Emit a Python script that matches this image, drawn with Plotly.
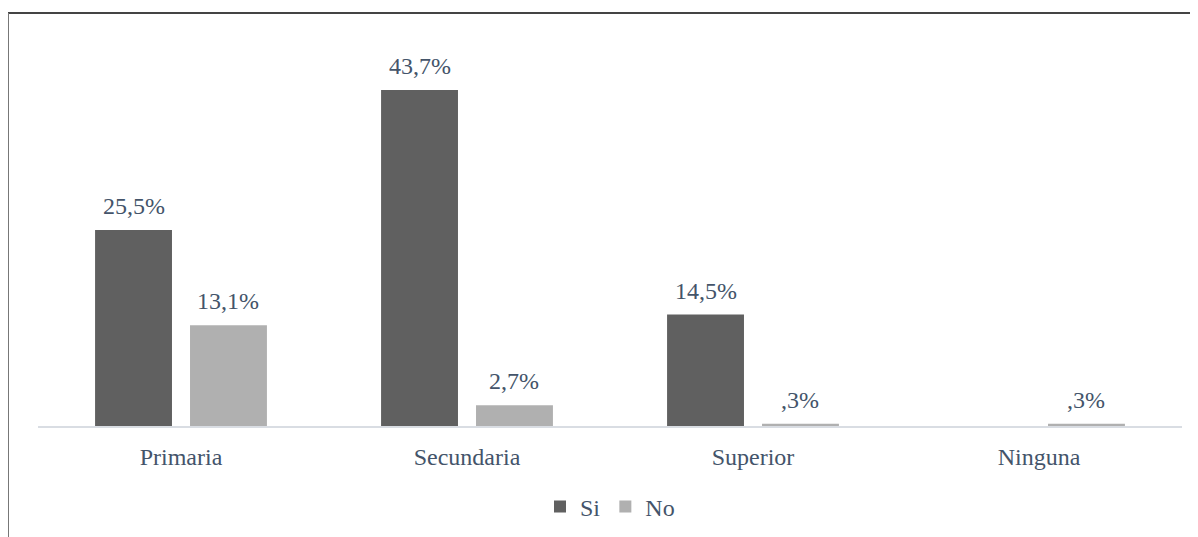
import plotly.graph_objects as go

categories = ["Primaria", "Secundaria", "Superior", "Ninguna"]
si_values = [25.5, 43.7, 14.5, None]
no_values = [13.1, 2.7, 0.3, 0.3]
series_names = ["Si", "No"]


def fmt(v):
    if v is None:
        return ""
    s = f"{v:.1f}".replace(".", ",")
    if s.startswith("0,"):
        s = s[1:]
    return s + "%"


TEXT_COLOR = "#44546A"
FONT = "Liberation Serif, Times New Roman, serif"

# page body adds an 8px offset; work in figure pixel coords
OFF = 8
W, H = 1198 - OFF, 537 - OFF
L, R, T, B = 38 - OFF, 1182 - OFF, 30 - OFF, 426 - OFF


def px(x):
    return (x - OFF - L) / (R - L)


def py(y):
    return (B - (y - OFF)) / (B - T)


fig = go.Figure()
fig.add_trace(go.Bar(
    name=series_names[0], x=categories, y=si_values,
    marker=dict(color="#606060", line=dict(width=0)),
))
fig.add_trace(go.Bar(
    name=series_names[1], x=categories, y=no_values,
    marker=dict(color="#b0b0b0", line=dict(width=0)),
))

slot = (R - L) / len(categories) * (1 - 0.336) / 2
annotations = []
for vals, shift in ((si_values, -slot / 2), (no_values, slot / 2)):
    for c, v in zip(categories, vals):
        if v is None:
            continue
        annotations.append(dict(
            x=c, y=v, xref="x", yref="y", text=fmt(v), showarrow=False,
            xshift=shift, yshift=9, yanchor="bottom",
            font=dict(family=FONT, size=24, color=TEXT_COLOR),
        ))

fig.update_layout(
    width=W, height=H,
    margin=dict(l=L, r=W - R, t=T, b=H - B, pad=0, autoexpand=False),
    paper_bgcolor="white", plot_bgcolor="white",
    barmode="group", bargap=0.336, bargroupgap=0.19,
    font=dict(family=FONT, size=24, color=TEXT_COLOR),
    showlegend=True,
    legend=dict(orientation="h", x=0.5, xanchor="center", y=py(507), yanchor="middle",
                font=dict(family=FONT, size=24, color=TEXT_COLOR),
                itemwidth=30, tracegroupgap=0),
    xaxis=dict(showgrid=False, showline=True, linecolor="#D9DDE3", linewidth=2,
               ticks="", tickfont=dict(family=FONT, size=24, color=TEXT_COLOR),
               ticklabelstandoff=8, automargin=False),
    yaxis=dict(range=[0, 51.5], visible=False, showgrid=False, zeroline=False),
    annotations=annotations,
    shapes=[
        dict(type="line", xref="paper", yref="paper", x0=px(8), x1=px(1210), y0=py(13), y1=py(13),
             line=dict(color="#444444", width=2)),
        dict(type="line", xref="paper", yref="paper", x0=px(8), x1=px(8), y0=py(13), y1=py(545),
             line=dict(color="#777777", width=2)),
    ],
)

fig.write_html("out.html")
